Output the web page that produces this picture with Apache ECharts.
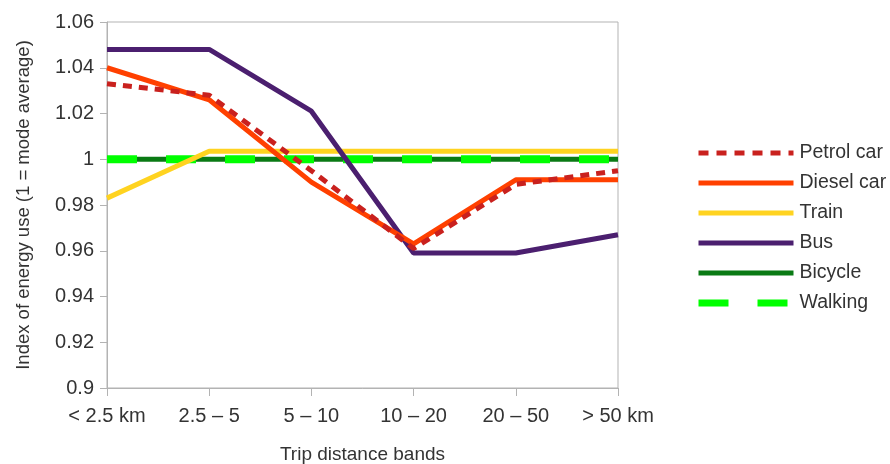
<!DOCTYPE html>
<html><head><meta charset="utf-8">
<script src="https://cdn.jsdelivr.net/npm/echarts@6/dist/echarts.min.js"></script>
<style>html,body{margin:0;padding:0;background:#fff}#c{width:890px;height:464px}</style>
</head><body><div id="c"></div>
<script>
const categories = ['< 2.5 km', '2.5 – 5', '5 – 10', '10 – 20', '20 – 50', '> 50 km'];
const petrolCar = [1.033, 1.028, 0.995, 0.961, 0.989, 0.995];
const dieselCar = [1.040, 1.026, 0.990, 0.963, 0.991, 0.991];
const train = [0.983, 1.0035, 1.0035, 1.0035, 1.0035, 1.0035];
const bus = [1.048, 1.048, 1.021, 0.959, 0.959, 0.967];
const bicycle = [1, 1, 1, 1, 1, 1];
const walking = [1, 1, 1, 1, 1, 1];

const F = 'Liberation Sans, Arial, sans-serif';
const chart = echarts.init(document.getElementById('c'));
function s(name, data, color, width, type, z) {
  return {name, type: 'line', data, symbol: 'none', z,
    lineStyle: {color, width, type: type || 'solid', cap: 'butt'},
    itemStyle: {color}, emphasis: {disabled: true}};
}
const hideSym = {opacity: 0};
chart.setOption({
  animation: false,
  grid: {left: 107, right: 272, top: 22, bottom: 76, containLabel: false, outerBoundsMode: 'none',
    show: true, borderColor: '#b3b3b3', borderWidth: 1, backgroundColor: 'transparent'},
  xAxis: {type: 'category', data: categories, boundaryGap: false,
    name: 'Trip distance bands', nameLocation: 'middle', nameGap: 57,
    nameTextStyle: {fontFamily: F, fontSize: 19, color: '#333'},
    axisLine: {lineStyle: {color: '#b3b3b3'}},
    axisTick: {length: 8, lineStyle: {color: '#b3b3b3'}},
    axisLabel: {fontFamily: F, fontSize: 20, color: '#333', margin: 18},
    splitLine: {show: false}},
  yAxis: {type: 'value', min: 0.9, max: 1.06, interval: 0.02,
    name: 'Index of energy use (1 = mode average)', nameLocation: 'middle', nameGap: 74,
    nameTextStyle: {fontFamily: F, fontSize: 18.5, color: '#333'},
    axisLine: {show: true, lineStyle: {color: '#b3b3b3'}},
    axisTick: {show: true, length: 7, lineStyle: {color: '#b3b3b3'}},
    axisLabel: {fontFamily: F, fontSize: 20, color: '#333', margin: 13,
      formatter: v => String(parseFloat(v.toFixed(2)))},
    splitLine: {show: false}},
  legend: {orient: 'vertical', left: 690, top: 138, itemWidth: 95, itemHeight: 10, itemGap: 10,
    itemStyle: hideSym,
    textStyle: {fontFamily: F, fontSize: 19.5, lineHeight: 20, color: '#333', padding: [0, 0, 0, 1]},
    data: [
      {name: 'Petrol car', itemStyle: hideSym, lineStyle: {width: 5, type: [10, 8]}},
      {name: 'Diesel car', itemStyle: hideSym, lineStyle: {width: 5}},
      {name: 'Train', itemStyle: hideSym, lineStyle: {width: 5}},
      {name: 'Bus', itemStyle: hideSym, lineStyle: {width: 5}},
      {name: 'Bicycle', itemStyle: hideSym, lineStyle: {width: 5}},
      {name: 'Walking', itemStyle: hideSym, lineStyle: {width: 7, type: [30, 29]}}
    ]},
  series: [
    s('Petrol car', petrolCar, '#c9211e', 5, [9, 7], 6),
    s('Diesel car', dieselCar, '#ff4000', 5, null, 5),
    s('Train', train, '#ffd320', 5, null, 3),
    s('Bus', bus, '#4b1f6f', 5, null, 4),
    s('Bicycle', bicycle, '#0a7a14', 5, null, 2),
    s('Walking', walking, '#00ff00', 8, [30, 29], 2.5)
  ]
});
</script></body></html>
